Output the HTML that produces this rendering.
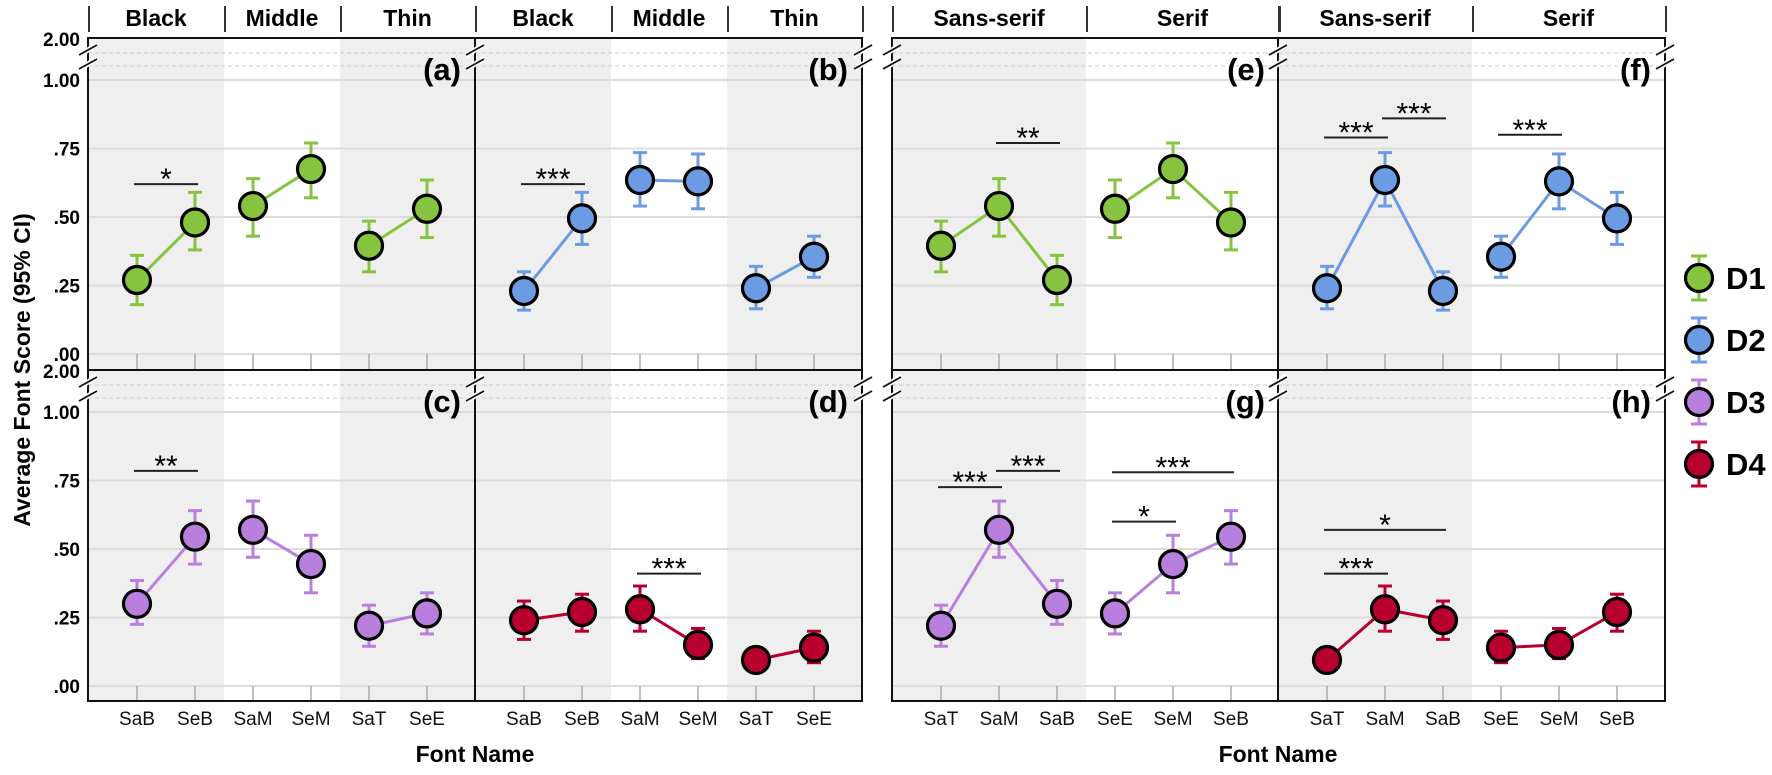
<!DOCTYPE html>
<html><head><meta charset="utf-8">
<style>
html,body{margin:0;padding:0;background:#fff;}
svg{display:block;font-family:"Liberation Sans",Arial,sans-serif;}
</style></head>
<body>
<svg id="chart" width="1772" height="775" viewBox="0 0 1772 775" xmlns="http://www.w3.org/2000/svg"></svg>
<script>
// ---- data ----
const fonts = ['SaB','SeB','SaM','SeM','SaT','SeE'];
const d1Mean = [0.27, 0.48, 0.54, 0.675, 0.395, 0.53];
const d1Lo   = [0.18, 0.38, 0.43, 0.57, 0.30, 0.425];
const d1Hi   = [0.36, 0.59, 0.64, 0.77, 0.485, 0.635];
const d2Mean = [0.23, 0.495, 0.635, 0.63, 0.24, 0.355];
const d2Lo   = [0.16, 0.40, 0.54, 0.53, 0.165, 0.28];
const d2Hi   = [0.30, 0.59, 0.735, 0.73, 0.32, 0.43];
const d3Mean = [0.30, 0.545, 0.57, 0.445, 0.22, 0.265];
const d3Lo   = [0.225, 0.445, 0.47, 0.34, 0.145, 0.19];
const d3Hi   = [0.385, 0.64, 0.675, 0.55, 0.295, 0.34];
const d4Mean = [0.24, 0.27, 0.28, 0.15, 0.095, 0.14];
const d4Lo   = [0.17, 0.20, 0.20, 0.10, 0.06, 0.085];
const d4Hi   = [0.31, 0.335, 0.365, 0.21, 0.14, 0.20];
const yTicks = [0, 0.25, 0.5, 0.75, 1.0];
const yTickLabels = ['.00', '.25', '.50', '.75', '1.00'];
const weightOrder = ['SaB','SeB','SaM','SeM','SaT','SeE'];
const styleOrder = ['SaT','SaM','SaB','SeE','SeM','SeB'];
const weightGroups = ['Black','Middle','Thin'];
const styleGroups = ['Sans-serif','Serif'];
// brackets: [fromIndex, toIndex, value, label]
const bracketsA = [[0,1,0.62,'*']];
const bracketsB = [[0,1,0.62,'***']];
const bracketsC = [[0,1,0.785,'**']];
const bracketsD = [[2,3,0.41,'***']];
const bracketsE = [[1,2,0.77,'**']];
const bracketsF = [[0,1,0.79,'***'],[1,2,0.86,'***'],[3,4,0.80,'***']];
const bracketsG = [[0,1,0.726,'***'],[1,2,0.785,'***'],[3,5,0.78,'***'],[3,4,0.60,'*']];
const bracketsH = [[0,1,0.41,'***'],[0,2,0.57,'*']];

const NS='http://www.w3.org/2000/svg';
const svg=document.getElementById('chart');
function mk(tag, attrs, parent){const e=document.createElementNS(NS,tag);for(const k in attrs)e.setAttribute(k,attrs[k]);(parent||svg).appendChild(e);return e;}

const series={
 D1:{mean:d1Mean,lo:d1Lo,hi:d1Hi,color:'#86c440'},
 D2:{mean:d2Mean,lo:d2Lo,hi:d2Hi,color:'#6b9be2'},
 D3:{mean:d3Mean,lo:d3Lo,hi:d3Hi,color:'#b97fdd'},
 D4:{mean:d4Mean,lo:d4Lo,hi:d4Hi,color:'#b8002f'}
};
const rows=[{top:38,bottom:370,y0:354},{top:370,bottom:701,y0:686}];
const UNIT=274, PW=387;
const panels=[
 {id:'a',left:88,row:0,order:weightOrder,ds:'D1',br:bracketsA,kind:'w'},
 {id:'b',left:475,row:0,order:weightOrder,ds:'D2',br:bracketsB,kind:'w'},
 {id:'c',left:88,row:1,order:weightOrder,ds:'D3',br:bracketsC,kind:'w'},
 {id:'d',left:475,row:1,order:weightOrder,ds:'D4',br:bracketsD,kind:'w'},
 {id:'e',left:892,row:0,order:styleOrder,ds:'D1',br:bracketsE,kind:'s'},
 {id:'f',left:1278,row:0,order:styleOrder,ds:'D2',br:bracketsF,kind:'s'},
 {id:'g',left:892,row:1,order:styleOrder,ds:'D3',br:bracketsG,kind:'s'},
 {id:'h',left:1278,row:1,order:styleOrder,ds:'D4',br:bracketsH,kind:'s'}
];
const xAt=(p,i)=>p.left+49+58*i;
const yAt=(r,v)=>rows[r].y0-v*UNIT;

panels.forEach(p=>{
 const g=mk('g',{});
 
 
 const r=rows[p.row];
 // backgrounds
 const bounds = p.kind==='w' ? [[0,136,true],[136,252,false],[252,PW,true]] : [[0,194,true],[194,PW,false]];
 bounds.forEach(b=>{ if(b[2]) mk('rect',{x:p.left+b[0],y:r.top,width:b[1]-b[0],height:r.bottom-r.top,fill:'#efefef'},g); });
 // dashed break lines
 [15,28].forEach(o=>mk('line',{x1:p.left,x2:p.left+PW,y1:r.top+o,y2:r.top+o,stroke:'#d4d4d4','stroke-width':1.2,'stroke-dasharray':'4 3'},g));
 // gridlines
 yTicks.forEach(v=>mk('line',{x1:p.left,x2:p.left+PW,y1:yAt(p.row,v),y2:yAt(p.row,v),stroke:'#dcdcdc','stroke-width':2},g));
 // x ticks
 p.order.forEach((f,i)=>mk('line',{x1:xAt(p,i),x2:xAt(p,i),y1:r.y0,y2:r.bottom,stroke:'#aaa','stroke-width':1.5},g));
 // border
 mk('rect',{x:p.left,y:r.top,width:PW,height:r.bottom-r.top,fill:'none',stroke:'#111','stroke-width':2},g);
 // panel label
 const t=mk('text',{x:p.left+PW-14,y:r.top+42,'text-anchor':'end','font-size':31,'font-weight':'bold',fill:'#000'},g);
 t.textContent='('+p.id+')';
 
 
 // series
 const s=series[p.ds];
 const idx=p.order.map(f=>fonts.indexOf(f));
 const half = p.kind==='w' ? [[0,1],[2,3],[4,5]] : [[0,1,2],[3,4,5]];
 half.forEach(grp=>{
  const pts=grp.map(i=>xAt(p,i)+','+yAt(p.row,s.mean[idx[i]])).join(' ');
  const pl=mk('polyline',{points:pts,fill:'none',stroke:s.color,'stroke-width':3},g);
  
  
 });
 idx.forEach((k,i)=>{
  const x=xAt(p,i), yl=yAt(p.row,s.lo[k]), yh=yAt(p.row,s.hi[k]);
  mk('line',{x1:x,x2:x,y1:yl,y2:yh,stroke:s.color,'stroke-width':3},g);
  mk('line',{x1:x-7,x2:x+7,y1:yl,y2:yl,stroke:s.color,'stroke-width':3},g);
  mk('line',{x1:x-7,x2:x+7,y1:yh,y2:yh,stroke:s.color,'stroke-width':3},g);
  const c=mk('circle',{cx:x,cy:yAt(p.row,s.mean[k]),r:13.5,fill:s.color,stroke:'#000','stroke-width':3.2},g);
  
  
 });
 // brackets
 p.br.forEach(b=>{
  const x1=xAt(p,b[0])-3, x2=xAt(p,b[1])+3, y=yAt(p.row,b[2]);
  const bl=mk('line',{x1:x1,x2:x2,y1:y,y2:y,stroke:'#222','stroke-width':2},g);
  
  
  const st=mk('text',{x:(x1+x2)/2,y:y+5,'text-anchor':'middle','font-size':30,fill:'#000'},g);
  st.textContent=b[3];
  
  
 });
 // x tick labels (bottom row only)
 if(p.row===1){
  p.order.forEach((f,i)=>{
   const tl=mk('text',{x:xAt(p,i),y:725,'text-anchor':'middle','font-size':19,fill:'#111'},g);
   tl.textContent=f;
   
   
  });
 }
 // header labels (top row)
 if(p.row===0){
  const groups=p.kind==='w'?weightGroups:styleGroups;
  const edges=p.kind==='w'?[0,136,252,PW]:[0,194,PW];
  groups.forEach((gn,i)=>{
   const ht=mk('text',{x:p.left+(edges[i]+edges[i+1])/2,y:26,'text-anchor':'middle','font-size':23,'font-weight':'bold',fill:'#000'},g);
   ht.textContent=gn;
   
   
  });
  edges.forEach(e=>mk('line',{x1:p.left+e+1,x2:p.left+e+1,y1:6,y2:32,stroke:'#333','stroke-width':2},g));
 }
});
// break marks
function brk(x,top){[12,26].forEach(o=>{mk('line',{x1:x-9,y1:top+o+6,x2:x+9,y2:top+o-6,stroke:'#fff','stroke-width':5});mk('line',{x1:x-9,y1:top+o+5,x2:x+9,y2:top+o-5,stroke:'#111','stroke-width':1.8});});}
rows.forEach(r=>{[88,475,863,892,1278,1665].forEach(x=>brk(x,r.top));});
// y axis labels
[0,1].forEach(ri=>{
 yTicks.forEach((v,i)=>{
  const t=mk('text',{x:80,y:yAt(ri,v)+7,'text-anchor':'end','font-size':19,'font-weight':'bold',fill:'#000'});
  t.textContent=yTickLabels[i];
  
  
 });
 const t2=mk('text',{x:80,y:rows[ri].top+8,'text-anchor':'end','font-size':19,'font-weight':'bold',fill:'#000'});
 t2.textContent='2.00';
 
 
});
// axis titles
const yt=mk('text',{x:0,y:0,transform:'translate(30,370) rotate(-90)','text-anchor':'middle','font-size':23,'font-weight':'bold',fill:'#000'});
yt.textContent='Average Font Score (95% CI)';


[475,1278].forEach(cx=>{
 const xt=mk('text',{x:cx,y:762,'text-anchor':'middle','font-size':23,'font-weight':'bold',fill:'#000'});
 xt.textContent='Font Name';
 
 
});
// legend
['D1','D2','D3','D4'].forEach((k,i)=>{
 const y=278+62*i, x=1699, c=series[k].color;
 const lg=mk('g',{});
 
 
 mk('line',{x1:x,x2:x,y1:y-22,y2:y+22,stroke:c,'stroke-width':3},lg);
 mk('line',{x1:x-8,x2:x+8,y1:y-22,y2:y-22,stroke:c,'stroke-width':3},lg);
 mk('line',{x1:x-8,x2:x+8,y1:y+22,y2:y+22,stroke:c,'stroke-width':3},lg);
 mk('circle',{cx:x,cy:y,r:13.5,fill:c,stroke:'#000','stroke-width':3.2},lg);
 const t=mk('text',{x:1726,y:y+11,'font-size':31,'font-weight':'bold',fill:'#000'},lg);
 t.textContent=k;
});
</script>
</body></html>
